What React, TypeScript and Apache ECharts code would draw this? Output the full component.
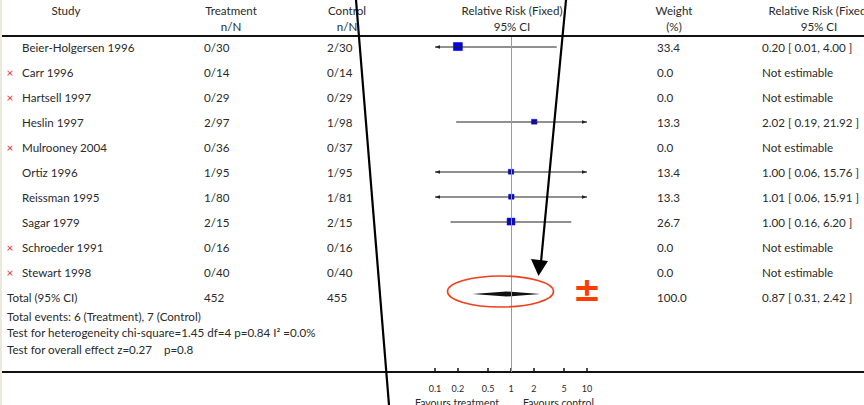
import React, { useEffect, useRef } from "react";
import * as echarts from "echarts";

// ---------- data ----------
const studies = [
  "Beier-Holgersen 1996",
  "Carr 1996",
  "Hartsell 1997",
  "Heslin 1997",
  "Mulrooney 2004",
  "Ortiz 1996",
  "Reissman 1995",
  "Sagar 1979",
  "Schroeder 1991",
  "Stewart 1998",
];
const treatmentNN = ["0/30", "0/14", "0/29", "2/97", "0/36", "1/95", "1/80", "2/15", "0/16", "0/40"];
const controlNN = ["2/30", "0/14", "0/29", "1/98", "0/37", "1/95", "1/81", "2/15", "0/16", "0/40"];
const weights = [33.4, 0.0, 0.0, 13.3, 0.0, 13.4, 13.3, 26.7, 0.0, 0.0];
const riskRatio: (number | null)[] = [0.2, null, null, 2.02, null, 1.0, 1.01, 1.0, null, null];
const ciLower: (number | null)[] = [0.01, null, null, 0.19, null, 0.06, 0.06, 0.16, null, null];
const ciUpper: (number | null)[] = [4.0, null, null, 21.92, null, 15.76, 15.91, 6.2, null, null];

const totalLabel = "Total (95% CI)";
const totalTreatment = 452;
const totalControl = 455;
const totalWeight = 100.0;
const totalRR = 0.87;
const totalLower = 0.31;
const totalUpper = 2.42;

const axisTickValues = [0.1, 0.2, 0.5, 1, 2, 5, 10];
const footnotes = [
  "Total events: 6 (Treatment), 7 (Control)",
  "Test for heterogeneity chi-square=1.45 df=4 p=0.84 I² =0.0%",
  "Test for overall effect z=0.27    p=0.8",
];
const headers = {
  study: "Study",
  treatment: ["Treatment", "n/N"],
  control: ["Control", "n/N"],
  rrPlot: ["Relative Risk (Fixed)", "95% CI"],
  weight: ["Weight", "(%)"],
  rrText: ["Relative Risk (Fixed)", "95% CI"],
};
const favours = ["Favours treatment", "Favours control"];

// ---------- layout ----------
const FONT = "Lato, 'Open Sans', sans-serif";
const TXT = "#2a2a2a";
const FS = 11.6;
const COL = { mark: 10, study: 22, total: 7, treat: 204, ctrl: 327, weight: 657, rr: 762 };

const fmtCI = (r: number, l: number, h: number) =>
  `${r.toFixed(2)} [ ${l.toFixed(2)}, ${h.toFixed(2)} ]`;

export default function App() {
  const ref = useRef<HTMLDivElement>(null);

  useEffect(() => {
    if (!ref.current) return;
    const chart = echarts.init(ref.current, undefined, { renderer: "svg" });

    const tableRows = studies.map((_, i) => [i]);
    tableRows.push([studies.length]);

    const forestData: number[][] = [];
    riskRatio.forEach((r, i) => {
      if (r != null) forestData.push([r, ciLower[i] as number, ciUpper[i] as number, i, weights[i]]);
    });

    const text = (x: number, y: number, t: string, extra: any = {}) => ({
      type: "text",
      style: { x, y, text: t, fill: TXT, fontFamily: FONT, fontSize: FS, align: "left", verticalAlign: "middle", ...extra },
    });

    const option: any = {
      animation: false,
      backgroundColor: "#ffffff",
      grid: [
        { left: 435, width: 152, top: 37, height: 335 },
        { left: 0, width: 864, top: 37, height: 335 },
      ],
      xAxis: [
        {
          gridIndex: 0,
          type: "log",
          logBase: 10,
          min: 0.1,
          max: 10,
          position: "bottom",
          axisLine: { show: false, onZero: false },
          splitLine: { show: false },
          minorTick: { show: false },
          axisTick: {
            show: true,
            inside: true,
            length: 4,
            customValues: axisTickValues,
            lineStyle: { color: "#111", width: 1.5 },
          },
          axisLabel: {
            show: true,
            customValues: axisTickValues,
            margin: 12,
            fontSize: 9,
            fontFamily: FONT,
            color: TXT,
            formatter: (v: number) => String(Math.round(v * 10) / 10),
          },
        },
        { gridIndex: 1, type: "value", min: 0, max: 864, show: false },
      ],
      yAxis: [
        { gridIndex: 0, type: "value", inverse: true, min: -0.4, max: 13, show: false },
        { gridIndex: 1, type: "value", inverse: true, min: -0.4, max: 13, show: false },
      ],
      series: [
        // table text
        {
          type: "custom",
          xAxisIndex: 1,
          yAxisIndex: 1,
          data: tableRows,
          silent: true,
          renderItem: (params: any, api: any) => {
            const i = api.value(0);
            const y = api.coord([0, i])[1];
            const cx = (c: number) => api.coord([c, i])[0];
            const children: any[] = [];
            if (i < studies.length) {
              if (riskRatio[i] == null) {
                children.push(text(cx(COL.mark), y, "×", { fill: "#f03030", align: "center", fontSize: 12 }));
              }
              children.push(text(cx(COL.study), y, studies[i]));
              children.push(text(cx(COL.treat), y, treatmentNN[i]));
              children.push(text(cx(COL.ctrl), y, controlNN[i]));
              children.push(text(cx(COL.weight), y, weights[i].toFixed(1)));
              const r = riskRatio[i];
              children.push(
                text(cx(COL.rr), y, r == null ? "Not estimable" : fmtCI(r, ciLower[i] as number, ciUpper[i] as number))
              );
            } else {
              children.push(text(cx(COL.total), y, totalLabel));
              children.push(text(cx(COL.treat), y, String(totalTreatment)));
              children.push(text(cx(COL.ctrl), y, String(totalControl)));
              children.push(text(cx(COL.weight), y, totalWeight.toFixed(1)));
              children.push(text(cx(COL.rr), y, fmtCI(totalRR, totalLower, totalUpper)));
            }
            return { type: "group", children };
          },
        },
        // forest: CI lines + boxes
        {
          type: "custom",
          xAxisIndex: 0,
          yAxisIndex: 0,
          data: forestData,
          silent: true,
          clip: false,
          renderItem: (params: any, api: any) => {
            const r = api.value(0);
            const lo = api.value(1);
            const hi = api.value(2);
            const row = api.value(3);
            const w = api.value(4);
            const c = api.coord([r, row]);
            const y = c[1];
            const loX = api.coord([Math.max(lo, 0.1), row])[0];
            const hiX = api.coord([Math.min(hi, 10), row])[0];
            const s = 3 + w * 0.18;
            const children: any[] = [
              {
                type: "rect",
                shape: { x: c[0] - s / 2, y: y - s / 2, width: s, height: s * 0.9 },
                style: { fill: "#0000ee", stroke: "#0000cc", lineWidth: 0.5 },
              },
              {
                type: "line",
                shape: { x1: loX, y1: y, x2: hiX, y2: y },
                style: { stroke: "#222", lineWidth: 1 },
              },
              {
                type: "line",
                shape: { x1: c[0], y1: y - 1.5, x2: c[0], y2: y + 1.5 },
                style: { stroke: "#222", lineWidth: 1 },
              },
            ];
            if (lo < 0.1) {
              children.push({
                type: "polygon",
                shape: { points: [[loX, y], [loX + 5, y - 1.8], [loX + 5, y + 1.8]] },
                style: { fill: "#222" },
              });
            }
            if (hi > 10) {
              children.push({
                type: "polygon",
                shape: { points: [[hiX, y], [hiX - 5, y - 1.8], [hiX - 5, y + 1.8]] },
                style: { fill: "#222" },
              });
            }
            return { type: "group", children };
          },
          markLine: {
            silent: true,
            symbol: ["none", "none"],
            label: { show: false },
            lineStyle: { color: "#9a9a9a", width: 1, type: "solid" },
            data: [{ xAxis: 1 }],
          },
        },
        // pooled diamond
        {
          type: "custom",
          xAxisIndex: 0,
          yAxisIndex: 0,
          data: [[totalRR, totalLower, totalUpper, studies.length]],
          silent: true,
          renderItem: (params: any, api: any) => {
            const row = api.value(3);
            const c = api.coord([api.value(0), row]);
            const y = c[1] - 3;
            const loX = api.coord([api.value(1), row])[0];
            const hiX = api.coord([api.value(2), row])[0];
            return {
              type: "polygon",
              shape: { points: [[loX, y], [c[0], y - 2.6], [hiX, y], [c[0], y + 2.6]] },
              style: { fill: "#111" },
            };
          },
        },
      ],
      graphic: [
        { type: "rect", shape: { x: 0, y: 0, width: 2, height: 405 }, style: { fill: "#ece8dc" }, z: 1 },
        { type: "line", shape: { x1: 2, y1: 36, x2: 864, y2: 36 }, style: { stroke: "#111", lineWidth: 2 }, z: 2 },
        { type: "line", shape: { x1: 2, y1: 372, x2: 864, y2: 372 }, style: { stroke: "#111", lineWidth: 2 }, z: 2 },
        // headers
        ...[
          [66, 10, headers.study],
          [231, 10, headers.treatment[0]],
          [231, 26, headers.treatment[1]],
          [347, 10, headers.control[0]],
          [347, 26, headers.control[1]],
          [512, 10, headers.rrPlot[0]],
          [512, 26, headers.rrPlot[1]],
          [674, 10, headers.weight[0]],
          [674, 26, headers.weight[1]],
          [819, 10, headers.rrText[0]],
          [819, 26, headers.rrText[1]],
        ].map(([x, y, t]) => ({
          type: "text",
          x: x as number,
          y: y as number,
          style: { text: t as string, fill: TXT, fontFamily: FONT, fontSize: FS, align: "center", verticalAlign: "middle" },
          z: 3,
        })),
        // footnotes
        ...footnotes.map((t, k) => ({
          type: "text",
          x: 7,
          y: [316, 332, 349][k],
          style: { text: t, fill: TXT, fontFamily: FONT, fontSize: FS, align: "left", verticalAlign: "middle" },
          z: 3,
        })),
        {
          type: "text",
          x: 499,
          y: 403,
          style: { text: favours[0], fill: TXT, fontFamily: FONT, fontSize: 10.5, align: "right", verticalAlign: "middle" },
          z: 3,
        },
        {
          type: "text",
          x: 523,
          y: 403,
          style: { text: favours[1], fill: TXT, fontFamily: FONT, fontSize: 10.5, align: "left", verticalAlign: "middle" },
          z: 3,
        },
        // annotations
        {
          type: "ellipse",
          shape: { cx: 500.5, cy: 291.5, rx: 53, ry: 15.5 },
          style: { fill: "none", stroke: "#f0401c", lineWidth: 1.6 },
          z: 10,
        },
        {
          type: "text",
          x: 587,
          y: 289,
          style: {
            text: "±",
            fill: "#ff3c00",
            fontFamily: "DejaVu Sans",
            fontWeight: "bold",
            fontSize: 34,
            align: "center",
            verticalAlign: "middle",
          },
          z: 10,
        },
        { type: "line", shape: { x1: 356, y1: 0, x2: 389, y2: 405 }, style: { stroke: "#000", lineWidth: 2.2 }, z: 10 },
        { type: "line", shape: { x1: 566, y1: 0, x2: 541, y2: 262 }, style: { stroke: "#000", lineWidth: 2.2 }, z: 10 },
        {
          type: "polygon",
          shape: { points: [[531, 259], [548, 261], [538.5, 276]] },
          style: { fill: "#000" },
          z: 10,
        },
      ],
    };

    chart.setOption(option);
    return () => chart.dispose();
  }, []);

  return (
    <div
      ref={ref}
      style={{ position: "absolute", left: 0, top: 0, width: 864, height: 405, background: "#fff" }}
    />
  );
}
